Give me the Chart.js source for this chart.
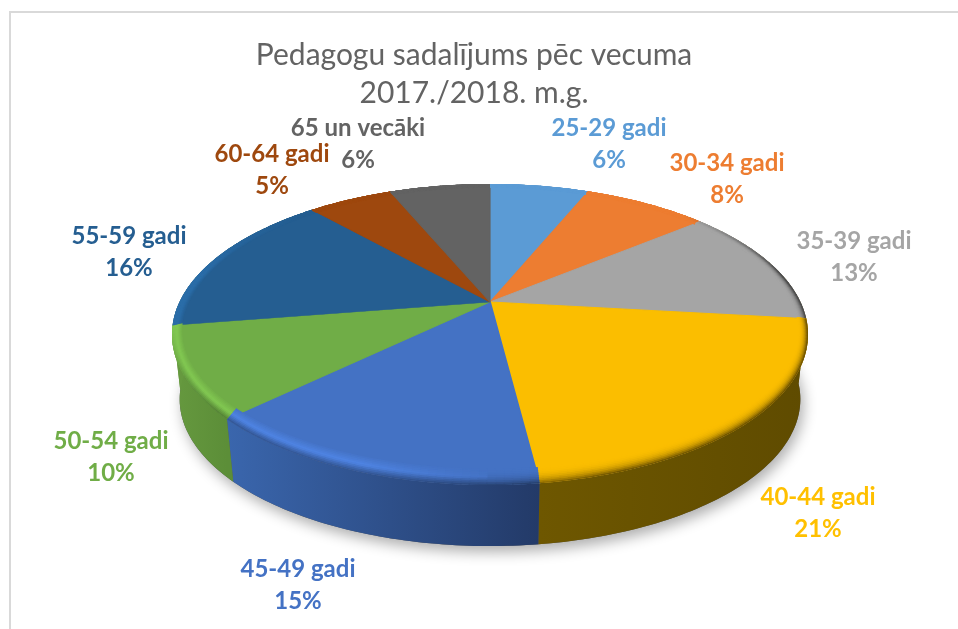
<!DOCTYPE html>
<html>
<head>
<meta charset="utf-8">
<script src="https://cdn.jsdelivr.net/npm/chart.js@4"></script>
<style>
  html, body { margin: 0; background: #fff; overflow: hidden; }
  #wrap { position: relative; width: 958px; height: 629px; }
  #frame { position: absolute; left: 9px; top: 11px; right: 0; bottom: 0; border-top: 2px solid #d9d9d9; border-left: 2px solid #d9d9d9; }
  canvas { position: absolute; left: 0; top: 0; }
</style>
</head>
<body>
<div id="wrap">
  <div id="frame"></div>
  <canvas id="c" width="958" height="629"></canvas>
</div>
<script>
const titleLines = ['Pedagogu sadalījums pēc vecuma', '2017./2018. m.g.'];
const ageGroups = ['25-29 gadi', '30-34 gadi', '35-39 gadi', '40-44 gadi', '45-49 gadi', '50-54 gadi', '55-59 gadi', '60-64 gadi', '65 un vecāki'];
const shares = [6.2, 7.8, 12.8, 21.2, 14.8, 9.7, 15.9, 5.3, 6.3];
const sliceColors = ['#5B9BD5', '#ED7D31', '#A5A5A5', '#FBBE00', '#4472C4', '#70AD47', '#255E91', '#9E480E', '#636363'];
const labelColors = ['#5B9BD5', '#ED7D31', '#A5A5A5', '#FFC000', '#4472C4', '#70AD47', '#255E91', '#9E480E', '#636363'];
// side wall colours; the walls of 35-39 and 55-59 only show as a sliver next to their neighbours
const sideLeft = ['#3d6d9a', '#8a4a1d', '#6e5700', '#6e5700', '#3a66ad', '#66993f', '#66993f', '#6a300a', '#3c3c3c'];
const sideRight = ['#335b80', '#74401a', '#6e5700', '#5f4b00', '#233a68', '#5c8e38', '#66993f', '#5a2808', '#333333'];

// where Excel put the data labels (centre of the first line)
const labelX = [609, 727, 854, 818, 298, 111, 129, 272, 358];
const labelY = [128, 163, 241, 497, 569, 441, 236, 154, 128];
const labelGap = 32;

// perspective of the pie disc: apex, half axes, foreshortening
const top3d = { x: 490, y: 302, a: 310.5, b: 143.5, k: 0.216 };
const bottom3d = { x: 490, y: 367.5, a: 303, b: 140, k: 0.216 };

function project(d, ang, t = 1) {
  const u = Math.cos(ang) * t, v = Math.sin(ang) * t;
  const w = 1 - d.k * v;
  return { x: d.x + d.a * u / w, y: d.y + d.b * v / w };
}

function discPath(ctx, d) {
  ctx.beginPath();
  for (let i = 0; i <= 360; i += 1) {
    const p = project(d, i * Math.PI / 180);
    i ? ctx.lineTo(p.x, p.y) : ctx.moveTo(p.x, p.y);
  }
  ctx.closePath();
}

function shade(hex, f) {
  const n = parseInt(hex.slice(1), 16);
  const c = [n >> 16, (n >> 8) & 255, n & 255].map(x => Math.min(255, Math.round(x * f)));
  return `rgb(${c[0]},${c[1]},${c[2]})`;
}

function drawSide(ctx, el, i) {
  const n = Math.max(4, Math.ceil((el.endAngle - el.startAngle) * 60));
  const topPts = [], botPts = [];
  for (let j = 0; j <= n; j++) {
    const a = el.startAngle + (el.endAngle - el.startAngle) * j / n;
    topPts.push(project(top3d, a));
    botPts.push(project(bottom3d, a));
  }
  const xs = topPts.map(p => p.x);
  const x0 = Math.min(...xs), x1 = Math.max(...xs);
  const grad = ctx.createLinearGradient(x0, 0, Math.max(x1, x0 + 1), 0);
  grad.addColorStop(0, sideLeft[i]);
  grad.addColorStop(1, sideRight[i]);
  ctx.fillStyle = grad;
  ctx.beginPath();
  topPts.forEach((p, j) => j ? ctx.lineTo(p.x, p.y) : ctx.moveTo(p.x, p.y));
  botPts.reverse().forEach(p => ctx.lineTo(p.x, p.y));
  ctx.closePath();
  ctx.fill();
}

// each wedge goes through ArcElement.draw, stretched so that its two edges land
// on the projected rays; the arc overshoots and gets clipped by the disc outline
function drawWedge(ctx, el) {
  const r = el.outerRadius, T = 1.25;
  const s = el.startAngle, e = el.endAngle;
  const a1x = r * Math.cos(s), a1y = r * Math.sin(s);
  const a2x = r * Math.cos(e), a2y = r * Math.sin(e);
  const d0 = { x: top3d.x, y: top3d.y };
  const p1 = project(top3d, s, T), p2 = project(top3d, e, T);
  const d1x = p1.x - d0.x, d1y = p1.y - d0.y, d2x = p2.x - d0.x, d2y = p2.y - d0.y;
  const det = a1x * a2y - a2x * a1y;
  const m11 = (d1x * a2y - d2x * a1y) / det, m12 = (d2x * a1x - d1x * a2x) / det;
  const m21 = (d1y * a2y - d2y * a1y) / det, m22 = (d2y * a1x - d1y * a2x) / det;
  ctx.save();
  ctx.transform(m11, m21, m12, m22, d0.x - m11 * el.x - m12 * el.y, d0.y - m21 * el.x - m22 * el.y);
  el.draw(ctx);
  ctx.restore();
}

function clamp(x, lo, hi) { return Math.max(lo, Math.min(hi, x)); }

// bevel along the outer edge: lit on the left, dark on the right, melts into the side
function drawRim(ctx, el, i) {
  const layers = 10, step = 0.022;
  const base = sliceColors[i];
  ctx.lineWidth = 2.4;
  for (let l = 1; l <= layers; l++) {
    const f = l / layers;
    for (let a = el.startAngle; a < el.endAngle; a += step) {
      const b = Math.min(a + step + 0.004, el.endAngle);
      const m = (a + b) / 2;
      const v = Math.sin(m), lit = clamp(-Math.cos(m) * 3, -1, 1);
      const effect = clamp((v + 0.7) / 0.5, 0, 1);
      const mid = lit > 0 ? 1 + 0.16 * lit : 1 + 0.3 * lit;
      const end = 0.62 + 0.16 * lit;
      const front = clamp((v - 0.15) * 2, 0, 1);
      let g = f < 0.55 ? 1 + (mid - 1) * f / 0.55 : mid + (end - mid) * (f - 0.55) / 0.45 * front;
      if (lit < 0) g = 1 + (end - 1) * f * f * f;
      g = 1 + (g - 1) * effect;
      ctx.strokeStyle = shade(base, g);
      const p = rimPoint(a, f), q = rimPoint(b, f);
      ctx.beginPath();
      ctx.moveTo(p.x, p.y);
      ctx.lineTo(q.x, q.y);
      ctx.stroke();
    }
  }
}

function rimPoint(a, f) {
  const p = project(top3d, a, 1 - 0.03 * (1 - f));
  p.y -= (1 - f) * 10 * Math.max(0, Math.sin(a));
  return p;
}

const pie3d = {
  id: 'pie3d',
  beforeDatasetsDraw(chart) {
    const ctx = chart.ctx;
    const arcs = chart.getDatasetMeta(0).data;
    ctx.save();
    ctx.shadowColor = 'rgba(0,0,0,0.32)';
    ctx.shadowBlur = 14;
    ctx.shadowOffsetX = 3;
    ctx.shadowOffsetY = 6;
    ctx.fillStyle = '#555';
    discPath(ctx, bottom3d);
    ctx.fill();
    ctx.restore();
    arcs.forEach((el, i) => drawSide(ctx, el, i));
    ctx.save();
    discPath(ctx, top3d);
    ctx.clip();
    arcs.forEach(el => drawWedge(ctx, el));
    arcs.forEach((el, i) => drawRim(ctx, el, i));
    ctx.restore();
    return false;
  },
  afterDraw(chart) {
    const ctx = chart.ctx;
    ctx.save();
    ctx.font = 'bold 24px Lato, sans-serif';
    ctx.textAlign = 'center';
    ctx.textBaseline = 'middle';
    ageGroups.forEach((name, i) => {
      ctx.fillStyle = labelColors[i];
      ctx.fillText(name, labelX[i], labelY[i]);
      ctx.fillText(Math.round(shares[i]) + '%', labelX[i], labelY[i] + labelGap);
    });
    ctx.restore();
  }
};

new Chart(document.getElementById('c'), {
  type: 'pie',
  data: {
    labels: ageGroups,
    datasets: [{
      data: shares,
      backgroundColor: sliceColors,
      borderColor: sliceColors,
      borderWidth: 1
    }]
  },
  options: {
    responsive: false,
    animation: false,
    layout: { padding: { top: 36, right: 10 } },
    plugins: {
      legend: { display: false },
      tooltip: { enabled: false },
      title: {
        display: true,
        text: titleLines,
        color: '#636363',
        font: { family: 'Lato, sans-serif', size: 30, weight: 'normal', lineHeight: 1.27 },
        padding: { top: 0, bottom: 0 }
      }
    }
  },
  plugins: [pie3d]
});
</script>
</body>
</html>
